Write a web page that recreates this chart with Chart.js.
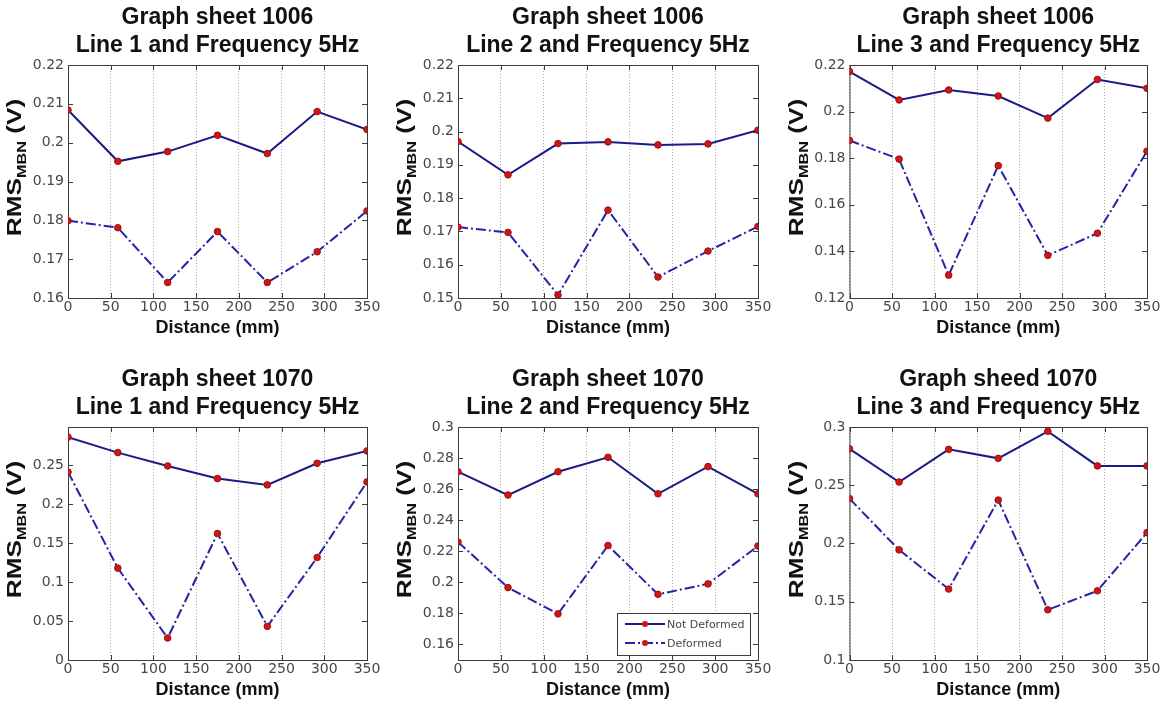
<!DOCTYPE html>
<html>
<head>
<meta charset="utf-8">
<script src="https://cdn.jsdelivr.net/npm/chart.js@4.4.1/dist/chart.umd.min.js"></script>
<style>
  body { margin: 0; background: #fff; }
  #wrap { position: relative; width: 1171px; height: 703px; overflow: hidden; }
  #wrap canvas { position: absolute; }
</style>
</head>
<body>
<div id="wrap"></div>
<script>
// distances along the line (mm)
const distance = [0, 58.33, 116.67, 175, 233.33, 291.67, 350];
const xTicks = [0, 50, 100, 150, 200, 250, 300, 350];

const titles = [
  ['Graph sheet 1006', 'Line 1 and Frequency 5Hz'],
  ['Graph sheet 1006', 'Line 2 and Frequency 5Hz'],
  ['Graph sheet 1006', 'Line 3 and Frequency 5Hz'],
  ['Graph sheet 1070', 'Line 1 and Frequency 5Hz'],
  ['Graph sheet 1070', 'Line 2 and Frequency 5Hz'],
  ['Graph sheed 1070', 'Line 3 and Frequency 5Hz']
];
const seriesNames = ['Not Deformed', 'Deformed'];

// RMS MBN values (V)
const notDeformed1006L1 = [0.2084, 0.1952, 0.1977, 0.2019, 0.1972, 0.2080, 0.2034];
const deformed1006L1    = [0.1799, 0.1781, 0.1640, 0.1771, 0.1640, 0.1719, 0.1824];
const notDeformed1006L2 = [0.1970, 0.1870, 0.1964, 0.1969, 0.1960, 0.1963, 0.2004];
const deformed1006L2    = [0.1713, 0.1697, 0.1509, 0.1764, 0.1563, 0.1641, 0.1715];
const notDeformed1006L3 = [0.2172, 0.2050, 0.2093, 0.2067, 0.1972, 0.2138, 0.2100];
const deformed1006L3    = [0.1876, 0.1796, 0.1298, 0.1768, 0.1383, 0.1478, 0.1830];
const notDeformed1070L1 = [0.2856, 0.2658, 0.2487, 0.2325, 0.2244, 0.2521, 0.2679];
const deformed1070L1    = [0.2410, 0.1177, 0.0282, 0.1621, 0.0431, 0.1314, 0.2282];
const notDeformed1070L2 = [0.2712, 0.2562, 0.2712, 0.2805, 0.2570, 0.2745, 0.2570];
const deformed1070L2    = [0.2260, 0.1966, 0.1797, 0.2237, 0.1923, 0.1990, 0.2234];
const notDeformed1070L3 = [0.2813, 0.2528, 0.2808, 0.2731, 0.2963, 0.2666, 0.2666];
const deformed1070L3    = [0.2385, 0.1945, 0.1609, 0.2373, 0.1431, 0.1594, 0.2093];

// y axis limits and tick labels per panel
const yLimits = [[0.16, 0.22], [0.15, 0.22], [0.12, 0.22], [0, 0.2986], [0.15, 0.3], [0.1, 0.3]];
const yTicks1 = [0.16, 0.17, 0.18, 0.19, 0.2, 0.21, 0.22];
const yTicks2 = [0.15, 0.16, 0.17, 0.18, 0.19, 0.2, 0.21, 0.22];
const yTicks3 = [0.12, 0.14, 0.16, 0.18, 0.2, 0.22];
const yTicks4 = [0, 0.05, 0.1, 0.15, 0.2, 0.25];
const yTicks5 = [0.16, 0.18, 0.2, 0.22, 0.24, 0.26, 0.28, 0.3];
const yTicks6 = [0.1, 0.15, 0.2, 0.25, 0.3];

const panelData = [
  [notDeformed1006L1, deformed1006L1, yTicks1],
  [notDeformed1006L2, deformed1006L2, yTicks2],
  [notDeformed1006L3, deformed1006L3, yTicks3],
  [notDeformed1070L1, deformed1070L1, yTicks4],
  [notDeformed1070L2, deformed1070L2, yTicks5],
  [notDeformed1070L3, deformed1070L3, yTicks6]
];

// page layout: canvas boxes and plot areas
const colX = [0, 390, 780], colW = [390, 390, 391];
const rowY = [0, 351], rowH = [351, 352];
const areaL = [68, 68, 69.5], areaR = [367, 368, 367];
const areaT = [65, 76], areaB = [298, 309];
const Y_W = 50, X_H = 20;

const NAVY = '#1b1b88';
const DASHBLUE = '#2424a6';
const MARKER = '#d01515';
const AXIS = '#3c3c3c';
const TICKTXT = '#474747';

function fmt(v) { return String(+v.toFixed(3)); }

// MATLAB-like box, titles, axis labels and legend
const matlabFrame = {
  id: 'matlabFrame',
  beforeDatasetsDraw(chart) {
    const { ctx, chartArea: a, scales } = chart;
    ctx.save();
    ctx.strokeStyle = AXIS;
    ctx.lineWidth = 1;
    ctx.strokeRect(a.left + 0.5, a.top + 0.5, a.right - a.left, a.bottom - a.top);
    ctx.beginPath();
    scales.x.ticks.forEach(t => {
      const px = Math.round(scales.x.getPixelForValue(t.value)) + 0.5;
      ctx.moveTo(px, a.bottom); ctx.lineTo(px, a.bottom - 5);
      ctx.moveTo(px, a.top); ctx.lineTo(px, a.top + 5);
    });
    scales.y.ticks.forEach(t => {
      const py = Math.round(scales.y.getPixelForValue(t.value)) + 0.5;
      ctx.moveTo(a.left, py); ctx.lineTo(a.left + 5, py);
      ctx.moveTo(a.right, py); ctx.lineTo(a.right - 5, py);
    });
    ctx.stroke();
    ctx.restore();
  },
  afterDraw(chart, args, opts) {
    const { ctx, chartArea: a } = chart;
    const cx = (a.left + a.right) / 2;
    ctx.save();
    ctx.fillStyle = '#111';
    ctx.textAlign = 'center';
    ctx.textBaseline = 'middle';
    ctx.font = 'bold 23px "Liberation Sans", Arial, sans-serif';
    ctx.fillText(opts.title[0], cx, a.top - 47);
    ctx.fillText(opts.title[1], cx, a.top - 19);

    ctx.font = 'bold 18px "Liberation Sans", Arial, sans-serif';
    ctx.fillText('Distance (mm)', cx, a.bottom + 30);

    // y label with subscript
    const big = 'bold 21px "Liberation Sans", Arial, sans-serif';
    const small = 'bold 13px "Liberation Sans", Arial, sans-serif';
    ctx.font = big; const w1 = ctx.measureText('RMS').width;
    ctx.font = small; const w2 = ctx.measureText('MBN').width;
    ctx.font = big; const w3 = ctx.measureText(' (V)').width;
    const total = w1 + w2 + w3;
    ctx.translate(a.left - 54, (a.top + a.bottom) / 2 - 14);
    ctx.rotate(-Math.PI / 2);
    ctx.scale(1.25, 1);
    ctx.textAlign = 'left';
    ctx.textBaseline = 'alphabetic';
    let x = -total / 2;
    ctx.font = big; ctx.fillText('RMS', x, 7); x += w1;
    ctx.font = small; ctx.fillText('MBN', x, 12); x += w2;
    ctx.font = big; ctx.fillText(' (V)', x, 7);
    ctx.restore();

    if (opts.legend) {
      const ds = chart.data.datasets;
      const bw = 133, bh = 42;
      const bx = a.right - 8 - bw, by = a.bottom - 5 - bh;
      ctx.save();
      ctx.fillStyle = '#fff';
      ctx.fillRect(bx, by, bw, bh);
      ctx.strokeStyle = AXIS;
      ctx.lineWidth = 1;
      ctx.strokeRect(bx + 0.5, by + 0.5, bw, bh);
      ds.forEach((d, i) => {
        const ly = by + 11 + i * 19;
        ctx.strokeStyle = d.borderColor;
        ctx.lineWidth = 2;
        ctx.setLineDash(d.borderDash || []);
        ctx.beginPath();
        ctx.moveTo(bx + 8, ly); ctx.lineTo(bx + 48, ly);
        ctx.stroke();
        ctx.setLineDash([]);
        ctx.fillStyle = MARKER;
        ctx.beginPath();
        ctx.arc(bx + 28, ly, 3, 0, Math.PI * 2);
        ctx.fill();
        ctx.fillStyle = TICKTXT;
        ctx.font = '11px "DejaVu Sans", sans-serif';
        ctx.textAlign = 'left';
        ctx.textBaseline = 'middle';
        ctx.fillText(seriesNames[i], bx + 50, ly + 1);
      });
      ctx.restore();
    }
  }
};

const wrap = document.getElementById('wrap');

panelData.forEach(([nd, d, yt], i) => {
  const col = i % 3, row = Math.floor(i / 3);
  const canvas = document.createElement('canvas');
  canvas.width = colW[col];
  canvas.height = rowH[row];
  canvas.style.left = colX[col] + 'px';
  canvas.style.top = rowY[row] + 'px';
  wrap.appendChild(canvas);

  new Chart(canvas, {
    type: 'line',
    data: {
      datasets: [
        {
          label: seriesNames[0],
          data: distance.map((x, k) => ({ x, y: nd[k] })),
          borderColor: NAVY,
          borderWidth: 2,
          pointRadius: 3.3,
          pointBackgroundColor: MARKER,
          pointBorderColor: '#a01010',
          pointBorderWidth: 1,
          tension: 0
        },
        {
          label: seriesNames[1],
          data: distance.map((x, k) => ({ x, y: d[k] })),
          borderColor: DASHBLUE,
          borderWidth: 2,
          borderDash: [10, 3, 2, 3],
          pointRadius: 3.3,
          pointBackgroundColor: MARKER,
          pointBorderColor: '#a01010',
          pointBorderWidth: 1,
          tension: 0
        }
      ]
    },
    options: {
      responsive: false,
      animation: false,
      devicePixelRatio: 1,
      layout: {
        padding: {
          left: areaL[col] - Y_W,
          right: colW[col] - areaR[col],
          top: areaT[row],
          bottom: rowH[row] - areaB[row] - X_H
        }
      },
      plugins: {
        legend: { display: false },
        title: { display: false },
        tooltip: { enabled: false },
        matlabFrame: { title: titles[i], legend: i === 4 }
      },
      scales: {
        x: {
          type: 'linear',
          min: 0,
          max: 350,
          afterFit: s => { s.height = X_H; },
          afterBuildTicks: s => { s.ticks = xTicks.map(v => ({ value: v })); },
          grid: { drawTicks: false, color: '#a8a8a8', lineWidth: 1 },
          border: { display: false, dash: [1, 2] },
          ticks: {
            padding: 1,
            autoSkip: false,
            maxRotation: 0,
            color: TICKTXT,
            font: { family: '"DejaVu Sans"', size: 14 },
            callback: v => fmt(v)
          }
        },
        y: {
          min: yLimits[i][0],
          max: yLimits[i][1],
          afterFit: s => { s.width = Y_W; },
          afterBuildTicks: s => { s.ticks = yt.map(v => ({ value: v })); },
          grid: { drawOnChartArea: false, drawTicks: false },
          border: { display: false },
          ticks: {
            padding: 4,
            color: TICKTXT,
            font: { family: '"DejaVu Sans"', size: 14 },
            callback: v => fmt(v)
          }
        }
      }
    },
    plugins: [matlabFrame]
  });
});
</script>
</body>
</html>
